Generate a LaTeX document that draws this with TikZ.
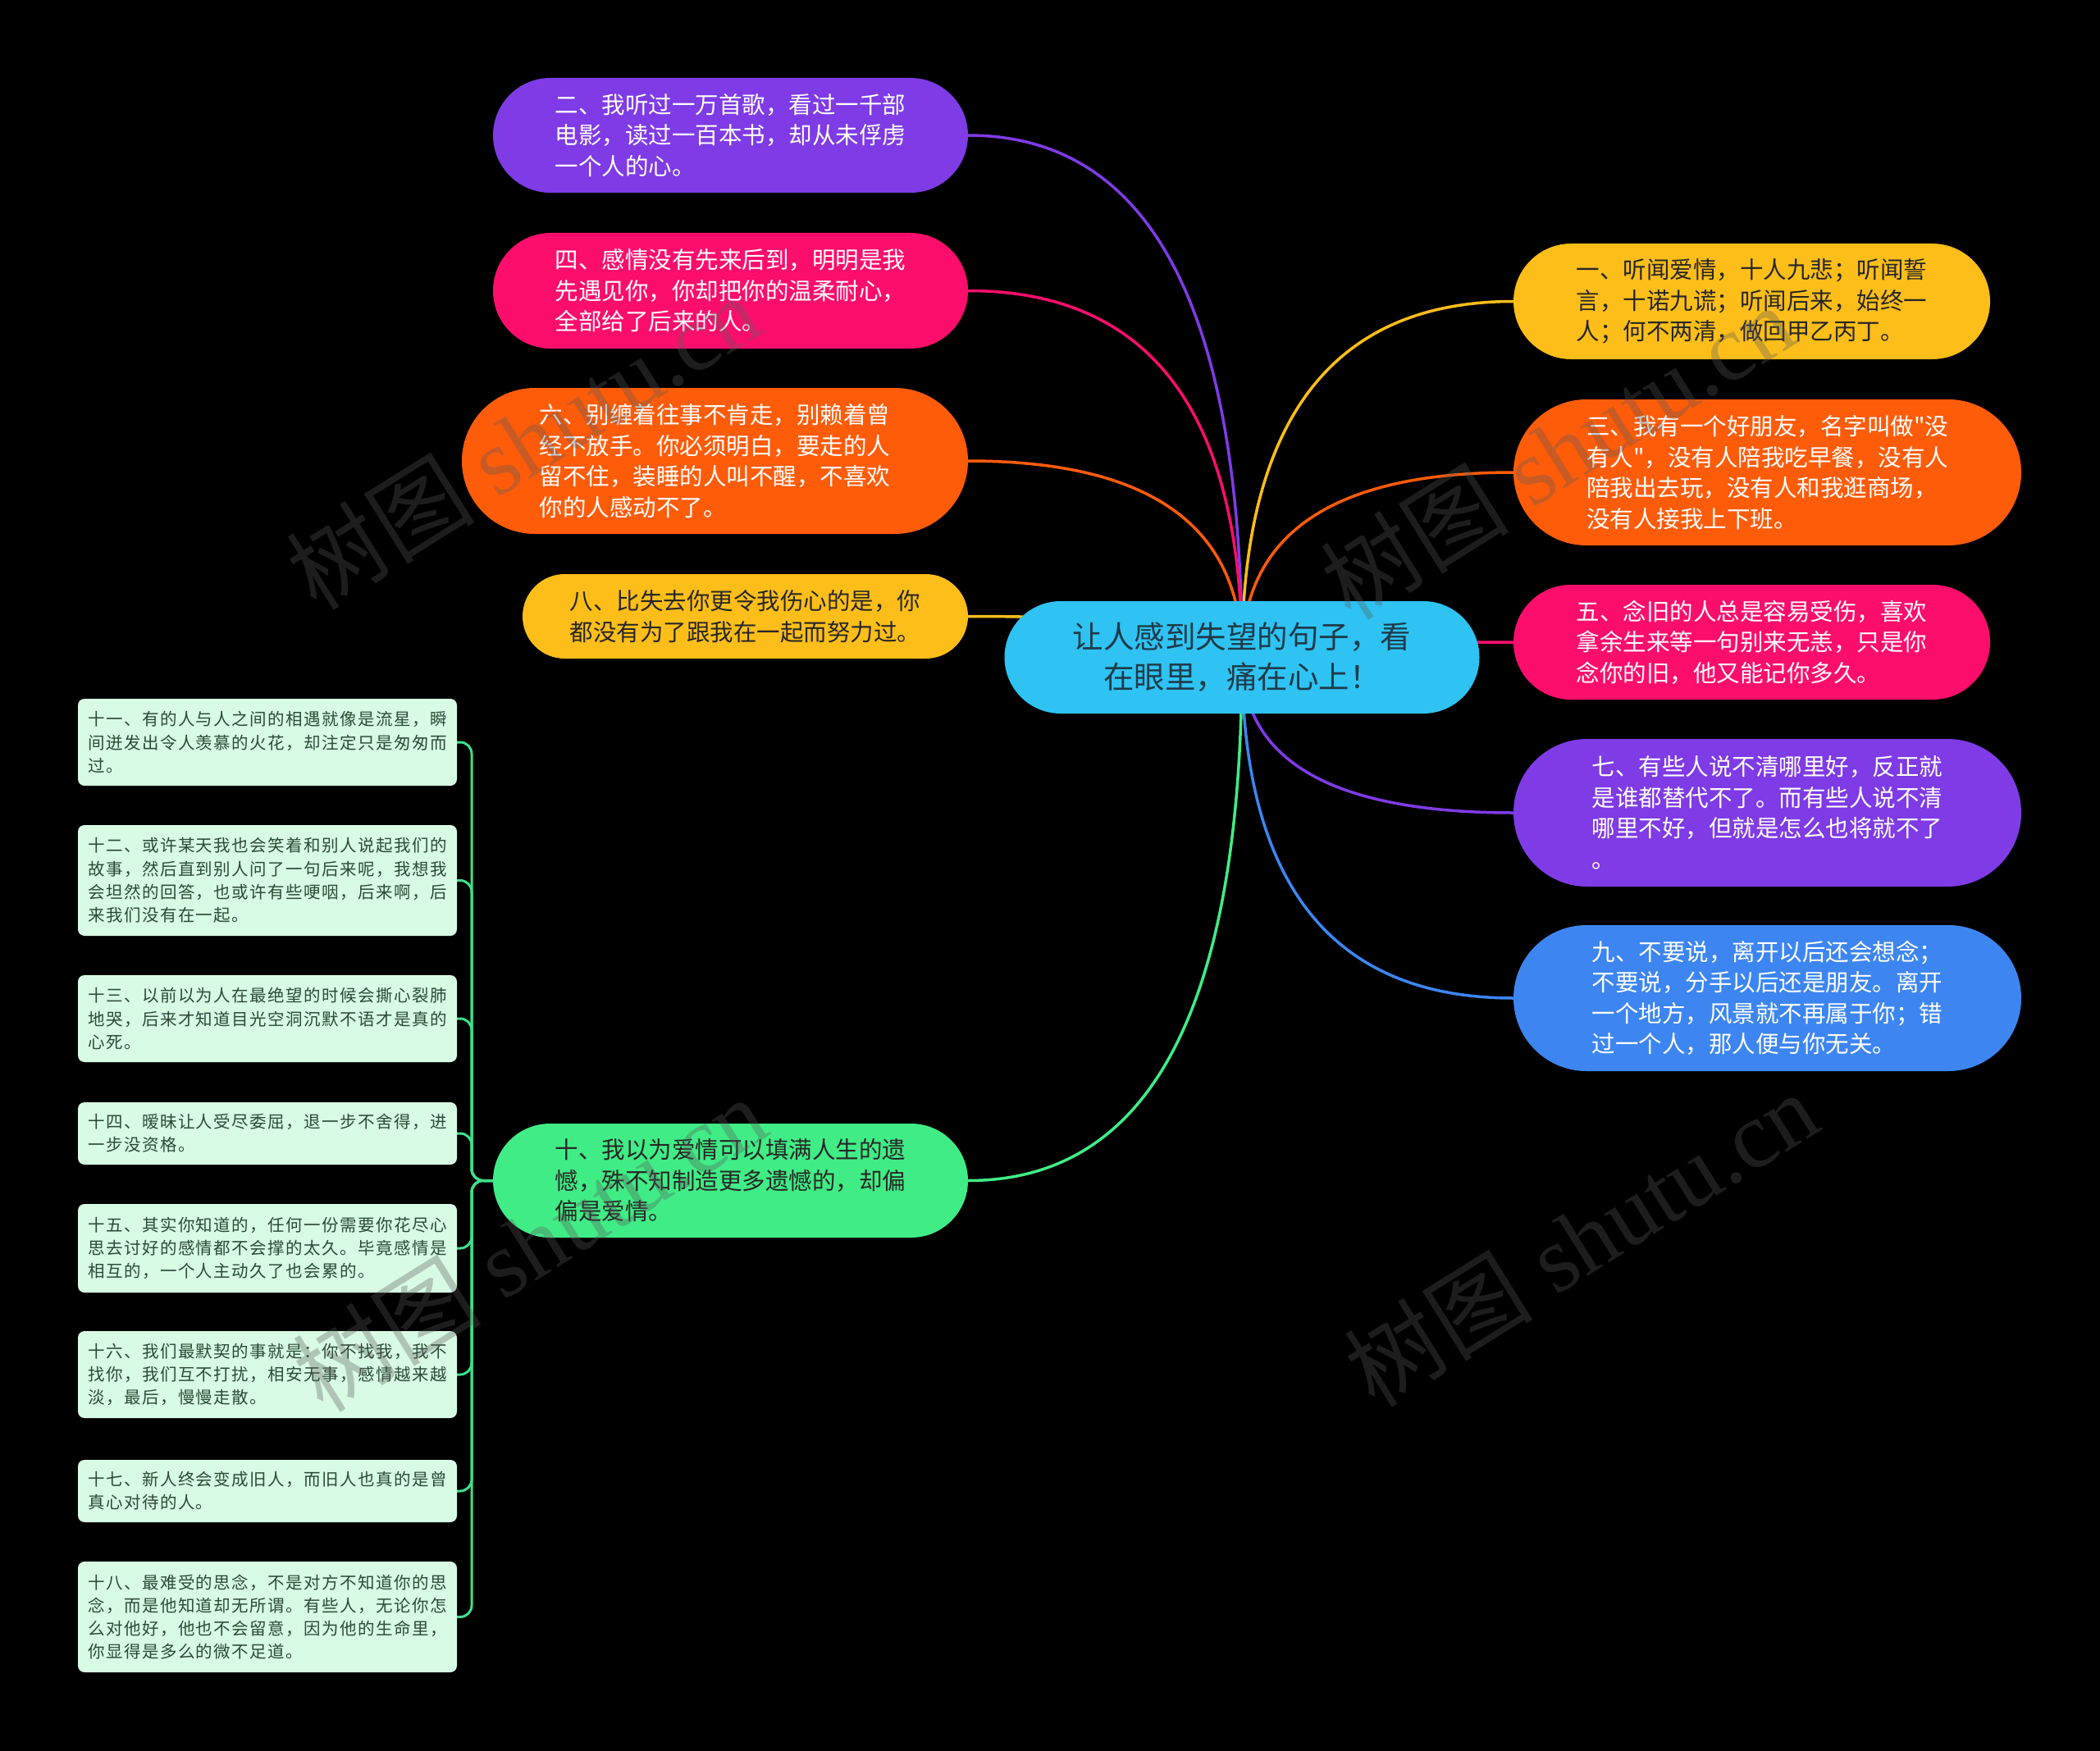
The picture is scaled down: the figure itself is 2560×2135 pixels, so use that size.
\documentclass[tikz,border=0pt]{standalone}
\usepackage{fontspec}
\newfontfamily\cjk{Noto Sans CJK SC}
\newfontfamily\cjkleaf[LetterSpace=7]{Noto Sans CJK SC}
\newfontfamily\wmserif{Liberation Serif}
\usetikzlibrary{shapes.misc,calc}
\definecolor{amber}{HTML}{FDBE19}
\definecolor{orng}{HTML}{FF5C0A}
\definecolor{pinkc}{HTML}{FE0E6C}
\definecolor{purp}{HTML}{7F3BE6}
\definecolor{bluec}{HTML}{3D86F2}
\definecolor{greenc}{HTML}{40EC86}
\definecolor{sky}{HTML}{2EC3F3}
\definecolor{darktext}{HTML}{262626}
\definecolor{roottext}{HTML}{1E3A48}
\definecolor{leaffill}{HTML}{D8FBE4}
\definecolor{leaftext}{HTML}{2C4A36}
\definecolor{leafline}{HTML}{3EE08A}
\definecolor{wmgray}{HTML}{5A5A5A}
\pgfdeclarelayer{bg}
\pgfdeclarelayer{edges}
\pgfsetlayers{bg,edges,main}
\tikzset{
  branch/.style={rounded rectangle, inner sep=0pt, align=left,
    font=\fontsize{28.5}{37.5}\selectfont\cjk},
  wtxt/.style={text=white},
  dtxt/.style={text=darktext},
  rootnode/.style={rounded rectangle, inner sep=0pt, align=center, fill=sky,
    text=roottext, font=\fontsize{37.5}{49}\selectfont\cjk},
  leaf/.style={rectangle, rounded corners=8pt, fill=leaffill, text=leaftext,
    inner sep=0pt, align=left, minimum width=462pt,
    font=\fontsize{20.5}{28.2}\selectfont\cjkleaf},
  edge/.style={line width=3.5pt},
  leafedge/.style={line width=3pt, draw=leafline, rounded corners=14pt},
  wm/.style={text=wmgray, opacity=0.33, font=\fontsize{115}{120}\selectfont\wmserif}
}
% quadratic link from root centre to an anchor of a branch node
\newcommand\mmlink[3]{%
  \draw[edge, draw=#1] (root.center)
    .. controls ($(root.center)!0.6667!(#2.#3 -| root.center)$)
       and ($(#2.#3)!0.6667!(#2.#3 -| root.center)$) .. (#2.#3);}
\begin{document}
\begin{tikzpicture}[x=1pt,y=-1pt]
\begin{pgfonlayer}{bg}
\fill[black] (0,0) rectangle (2560,2135);
\end{pgfonlayer}

% root
\node[rootnode, minimum width=579pt, minimum height=137pt] (root) at (1514,801.5)
  {让人感到失望的句子，看\\在眼里，痛在心上！};

% right branches
\node[branch, fill=amber, dtxt, minimum width=581pt, minimum height=141pt] (n1) at (2135.5,367.5)
  {一、听闻爱情，十人九悲；听闻誓\\言，十诺九谎；听闻后来，始终一\\人；何不两清，做回甲乙丙丁。};
\node[branch, fill=orng, wtxt, minimum width=619pt, minimum height=178pt] (n3) at (2154.5,576)
  {三、我有一个好朋友，名字叫做"没\\有人"，没有人陪我吃早餐，没有人\\陪我出去玩，没有人和我逛商场，\\没有人接我上下班。};
\node[branch, fill=pinkc, wtxt, minimum width=581pt, minimum height=140pt] (n5) at (2135.5,783)
  {五、念旧的人总是容易受伤，喜欢\\拿余生来等一句别来无恙，只是你\\念你的旧，他又能记你多久。};
\node[branch, fill=purp, wtxt, minimum width=619pt, minimum height=180pt] (n7) at (2154.5,991)
  {七、有些人说不清哪里好，反正就\\是谁都替代不了。而有些人说不清\\哪里不好，但就是怎么也将就不了\\。};
\node[branch, fill=bluec, wtxt, minimum width=619pt, minimum height=178pt] (n9) at (2154.5,1217)
  {九、不要说，离开以后还会想念；\\不要说，分手以后还是朋友。离开\\一个地方，风景就不再属于你；错\\过一个人，那人便与你无关。};

% left branches
\node[branch, fill=purp, wtxt, minimum width=579pt, minimum height=140pt] (n2) at (890.5,165)
  {二、我听过一万首歌，看过一千部\\电影，读过一百本书，却从未俘虏\\一个人的心。};
\node[branch, fill=pinkc, wtxt, minimum width=579pt, minimum height=141pt] (n4) at (890.5,354.5)
  {四、感情没有先来后到，明明是我\\先遇见你，你却把你的温柔耐心，\\全部给了后来的人。};
\node[branch, fill=orng, wtxt, minimum width=617pt, minimum height=178pt] (n6) at (871.5,562)
  {六、别缠着往事不肯走，别赖着曾\\经不放手。你必须明白，要走的人\\留不住，装睡的人叫不醒，不喜欢\\你的人感动不了。};
\node[branch, fill=amber, dtxt, minimum width=543pt, minimum height=103pt] (n8) at (908.5,751.5)
  {八、比失去你更令我伤心的是，你\\都没有为了跟我在一起而努力过。};
\node[branch, fill=greenc, dtxt, minimum width=579pt, minimum height=139pt] (n10) at (890.5,1439.5)
  {十、我以为爱情可以填满人生的遗\\憾，殊不知制造更多遗憾的，却偏\\偏是爱情。};

% leaves
\node[leaf, minimum height=106pt] (l1) at (326,905)
  {十一、有的人与人之间的相遇就像是流星，瞬\\间迸发出令人羡慕的火花，却注定只是匆匆而\\过。};
\node[leaf, minimum height=135pt] (l2) at (326,1073.5)
  {十二、或许某天我也会笑着和别人说起我们的\\故事，然后直到别人问了一句后来呢，我想我\\会坦然的回答，也或许有些哽咽，后来啊，后\\来我们没有在一起。};
\node[leaf, minimum height=106pt] (l3) at (326,1242)
  {十三、以前以为人在最绝望的时候会撕心裂肺\\地哭，后来才知道目光空洞沉默不语才是真的\\心死。};
\node[leaf, minimum height=76pt] (l4) at (326,1382)
  {十四、暧昧让人受尽委屈，退一步不舍得，进\\一步没资格。};
\node[leaf, minimum height=108pt] (l5) at (326,1522)
  {十五、其实你知道的，任何一份需要你花尽心\\思去讨好的感情都不会撑的太久。毕竟感情是\\相互的，一个人主动久了也会累的。};
\node[leaf, minimum height=106pt] (l6) at (326,1676)
  {十六、我们最默契的事就是：你不找我，我不\\找你，我们互不打扰，相安无事，感情越来越\\淡，最后，慢慢走散。};
\node[leaf, minimum height=76pt] (l7) at (326,1818)
  {十七、新人终会变成旧人，而旧人也真的是曾\\真心对待的人。};
\node[leaf, minimum height=135pt] (l8) at (326,1971.5)
  {十八、最难受的思念，不是对方不知道你的思\\念，而是他知道却无所谓。有些人，无论你怎\\么对他好，他也不会留意，因为他的生命里，\\你显得是多么的微不足道。};

\coordinate (trunk) at (575,1439.5);

\begin{pgfonlayer}{edges}
\mmlink{amber}{n1}{west}
\mmlink{orng}{n3}{west}
\mmlink{pinkc}{n5}{west}
\mmlink{purp}{n7}{west}
\mmlink{bluec}{n9}{west}
\mmlink{purp}{n2}{east}
\mmlink{pinkc}{n4}{east}
\mmlink{orng}{n6}{east}
\mmlink{amber}{n8}{east}
\mmlink{greenc}{n10}{east}
\foreach \l in {l1,l2,l3,l4,l5,l6,l7,l8}
  \draw[leafedge] (n10.west) -- (trunk) |- (\l.east);
\end{pgfonlayer}

% watermarks
\node[wm, rotate=32] (w1) at (637,538) {{\cjk 树图} shutu.cn};
\node[wm, rotate=32] (w2) at (1898,550) {{\cjk 树图} shutu.cn};
\node[wm, rotate=32] (w3) at (1927,1510) {{\cjk 树图} shutu.cn};
\node[wm, rotate=32] (w4) at (645,1516) {{\cjk 树图} shutu.cn};
\end{tikzpicture}
\end{document}
